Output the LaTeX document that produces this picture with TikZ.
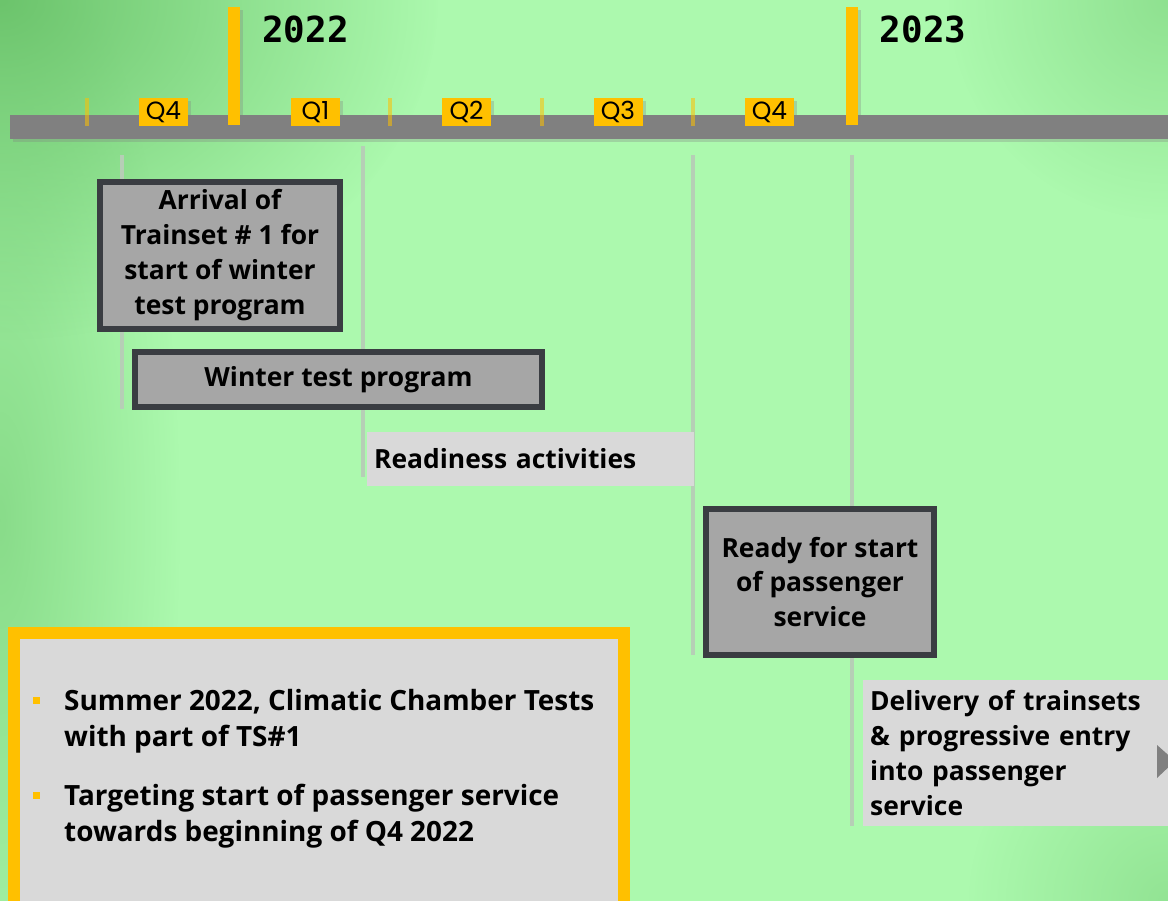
\documentclass[tikz,border=0pt]{standalone}
\usepackage{fontspec}
\setmainfont{Open Sans}
\newfontfamily\yearfont{DejaVu Sans Mono}
\newfontfamily\quarterfont{Poppins}
\usetikzlibrary{positioning,shadows,fadings}
\definecolor{bglight}{HTML}{ACF9AE}
\definecolor{bgdark}{HTML}{6CC46C}
\definecolor{gold}{HTML}{FFC000}
\definecolor{axisgray}{HTML}{808080}
\definecolor{boxgray}{HTML}{A6A6A6}
\definecolor{palegray}{HTML}{D9D9D9}
\definecolor{edgegray}{HTML}{3A3D42}
\definecolor{guidegray}{HTML}{B6CEB6}
\tikzfading[name=cornerfade,inner color=transparent!0,outer color=transparent!100]
\newcommand\boxfont{\bfseries\fontsize{26.5}{35}\selectfont}
\newcommand\notefont{\bfseries\fontsize{28}{36}\selectfont}

\begin{document}
\begin{tikzpicture}[x=1bp,y=-1bp,
  castshadow/.style={drop shadow={shadow xshift=3bp,shadow yshift=-3bp,opacity=.3}},
  yearbar/.style={fill=gold,inner sep=0,minimum width=12bp,minimum height=118bp,castshadow},
  yearlbl/.style={inner sep=0,anchor=base west,font=\yearfont\bfseries\fontsize{36}{36}\selectfont},
  qtag/.style={fill=gold,inner sep=0,minimum width=49bp,minimum height=28bp,
    font=\quarterfont\fontsize{25}{25}\selectfont,castshadow},
  tick/.style={draw=gold,opacity=.55,line width=4bp},
  guide/.style={draw=guidegray,line width=4bp},
  milestone/.style={draw=edgegray,line width=6bp,fill=boxgray,align=center,inner sep=0,font=\boxfont},
  activity/.style={fill=palegray,inner xsep=7bp,inner ysep=0,align=left,font=\boxfont},
  point/.style={inner sep=0,anchor=north west,align=left,font=\notefont},
  bulletsq/.style={fill=gold,inner sep=0,minimum size=7bp}]
  \useasboundingbox (0,0) rectangle (1168,901);
  % background glow, darker towards the corners
  \begin{scope}
    \clip (0,0) rectangle (1168,901);
    \fill[bglight] (0,0) rectangle (1168,901);
    \fill[bgdark,opacity=.55,path fading=cornerfade] (0,520) ellipse [x radius=180, y radius=620];
    \fill[bgdark,path fading=cornerfade] (0,0) ellipse [x radius=440, y radius=340];
    \fill[bgdark,opacity=.45,path fading=cornerfade] (1168,0) circle [radius=220];
    \fill[bgdark,opacity=.4,path fading=cornerfade] (1168,901) circle [radius=200];
  \end{scope}

  % guides down from the axis
  \draw[guide] (122,155) -- (122,409);
  \draw[guide] (363,146) -- (363,477);
  \draw[guide] (693,155) -- (693,655);
  \draw[guide] (852,155) -- (852,826);

  % axis with quarters and years
  \node (axis) [fill=axisgray,inner sep=0,minimum width=1170bp,minimum height=24bp,
    anchor=north west,castshadow] at (10,115) {};
  \foreach \x in {87,390,542,693}
    \draw[tick] (\x,98) -- (\x,126);
  \foreach \q/\x [count=\i] in {4/163.5,1/315.5,2/466.5,3/618,4/769.5}
    \node (q\i) [qtag] at (\x,112) {Q\q};
  \node (y22) [yearbar] at (234,66) {};
  \node (y23) [yearbar] at (851.5,66) {};
  \node (lbl22) [yearlbl] at ([xshift=22bp,yshift=-36bp]y22.north east) {2022};
  \node (lbl23) [yearlbl] at ([xshift=22bp,yshift=-36bp]y23.north east) {2023};

  % steps
  \node (arrival) [milestone,minimum width=240bp,minimum height=147bp] at (220,255)
    {Arrival of\\Trainset \# 1 for\\start of winter\\test program};
  \node (winter) [milestone,minimum width=407bp,minimum height=55bp] at (338.5,379.5)
    {Winter test program};
  \node (readiness) [activity,text width=313bp,minimum height=54bp,anchor=west] at (367,459)
    {Readiness activities};
  \node (ready) [milestone,minimum width=228bp,minimum height=146bp] at (820,582)
    {Ready for start\\of passenger\\service};
  \node (delivery) [activity,text width=298bp,minimum height=146bp,anchor=north west] at (863,680)
    {Delivery of trainsets\\\& progressive entry\\into passenger\\service};
  \fill[axisgray] (1157,745) -- (1175,761) -- (1157,778) -- cycle;

  % notes
  \node (notes) [draw=gold,line width=12bp,fill=palegray,inner sep=0,
    minimum width=610bp,minimum height=276bp,castshadow] at (319,771) {};
  \node (dot1) [bulletsq] at (36.5,700.5) {};
  \node (pt1) [point] at (64,689) {Summer 2022, Climatic Chamber Tests\\with part of TS\#1};
  \node (dot2) [bulletsq] at (36.5,795.5) {};
  \node (pt2) [point] at (64,784) {Targeting start of passenger service\\towards beginning of Q4 2022};
\end{tikzpicture}
\end{document}
